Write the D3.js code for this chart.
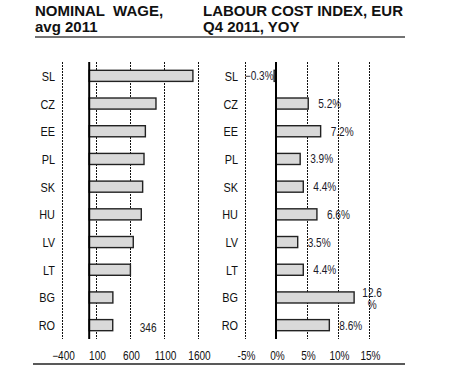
<!DOCTYPE html>
<html>
<head>
<meta charset="utf-8">
<script src="https://cdn.jsdelivr.net/npm/d3@7"></script>
<style>
  body { margin: 0; background: #fff; }
  svg text { font-family: "Liberation Sans", Arial, sans-serif; }
  .title { font-weight: bold; font-size: 15px; white-space: pre; }
</style>
</head>
<body>
<script>
const countries = ['SL', 'CZ', 'EE', 'PL', 'SK', 'HU', 'LV', 'LT', 'BG', 'RO'];
const wages = [1525, 982, 826, 806, 786, 766, 648, 606, 348, 346];
const lci = [-0.3, 5.2, 7.2, 3.9, 4.4, 6.6, 3.5, 4.4, 12.6, 8.6];
const wageTicks = [-400, 100, 600, 1100, 1600];
const lciTicks = [-5, 0, 5, 10, 15];

const width = 460, height = 370;
const squeeze = 0.84; // narrow look of the original font

const svg = d3.select('body').append('svg')
  .attr('width', width)
  .attr('height', height);

// condensed text helper
function ntext(sel, x, y) {
  return sel.append('text')
    .attr('transform', `translate(${x},${y}) scale(${squeeze},1)`);
}

// titles
const titles = [
  { x: 35, lines: ['NOMINAL  WAGE,', 'avg 2011'] },
  { x: 203, lines: ['LABOUR COST INDEX, EUR', 'Q4 2011, YOY'] }
];
titles.forEach(t => {
  svg.append('g').selectAll('text')
    .data(t.lines)
    .enter().append('text')
      .attr('class', 'title')
      .attr('x', t.x)
      .attr('y', (d, i) => 16 + i * 16)
      .attr('fill', '#111')
      .text(d => d);
});

svg.append('line')
  .attr('x1', 35).attr('x2', 405).attr('y1', 37).attr('y2', 37)
  .attr('stroke', '#444').attr('stroke-width', 1.5);
svg.append('line')
  .attr('x1', 33).attr('x2', 405).attr('y1', 364).attr('y2', 364)
  .attr('stroke', '#222').attr('stroke-width', 1.5);

const y = d3.scaleBand()
  .domain(countries)
  .range([62, 339])
  .paddingInner(0.6)
  .paddingOuter(0.3);

function panel(x, values, ticks, labelX, fmt) {
  const g = svg.append('g');
  const [top, bottom] = [62, 339];

  // dotted gridlines (not at zero)
  g.append('g').selectAll('line')
    .data(ticks.filter(t => t !== 0))
    .enter().append('line')
      .attr('x1', d => Math.round(x(d)) + 0.5)
      .attr('x2', d => Math.round(x(d)) + 0.5)
      .attr('y1', top).attr('y2', bottom)
      .attr('stroke', '#111')
      .attr('stroke-width', 1)
      .attr('stroke-dasharray', '2,1');

  // tick labels
  ticks.forEach(t => {
    ntext(g, x(t) + 1.5, 359.5)
      .attr('text-anchor', 'middle')
      .attr('font-size', 12)
      .attr('fill', '#111')
      .text(fmt(t));
  });

  // category labels
  countries.forEach(c => {
    ntext(g, labelX, y(c) + y.bandwidth() / 2 + 5)
      .attr('text-anchor', 'end')
      .attr('font-size', 13)
      .attr('fill', '#111')
      .text(c);
  });

  // bars
  g.append('g').selectAll('rect')
    .data(values)
    .enter().append('rect')
      .attr('x', d => x(Math.min(0, d)))
      .attr('y', (d, i) => y(countries[i]))
      .attr('width', d => Math.abs(x(d) - x(0)))
      .attr('height', y.bandwidth())
      .attr('fill', '#d9d9d9')
      .attr('stroke', '#222')
      .attr('stroke-width', 1.4);

  // zero axis
  g.append('line')
    .attr('x1', x(0)).attr('x2', x(0))
    .attr('y1', top).attr('y2', bottom)
    .attr('stroke', '#000')
    .attr('stroke-width', 2);

  return g;
}

const xL = d3.scaleLinear().domain([-400, 1600]).range([62, 198]);
const xR = d3.scaleLinear().domain([-5, 15]).range([245, 369]);

panel(xL, wages, wageTicks, 55, d => d3.format('d')(d));
const right = panel(xR, lci, lciTicks, 238, d => d + '%');

// stray data label on the wage panel (RO)
ntext(svg, xL(wages[9]) + 27, y('RO') + y.bandwidth() / 2 + 6.5)
  .attr('font-size', 12)
  .attr('fill', '#222')
  .text(wages[9]);

// value labels on LCI panel
lci.forEach((v, i) => {
  const cy = y(countries[i]) + y.bandwidth() / 2;
  const label = d3.format('.1f')(v) + '%';
  if (v < 0) {
    ntext(right, xR(v) - 0.5, cy + 4.5)
      .attr('text-anchor', 'end')
      .attr('font-size', 12)
      .attr('fill', '#1a1a2a')
      .text(label);
  } else if (v > 12) {
    ntext(right, xR(v) + 18, cy - 0.5)
      .attr('text-anchor', 'middle')
      .attr('font-size', 12)
      .attr('fill', '#1a1a2a')
      .text(d3.format('.1f')(v));
    ntext(right, xR(v) + 18, cy + 11.5)
      .attr('text-anchor', 'middle')
      .attr('font-size', 12)
      .attr('fill', '#1a1a2a')
      .text('%');
  } else {
    ntext(right, xR(v) + 10, cy + 4.5)
      .attr('font-size', 12)
      .attr('fill', '#1a1a2a')
      .text(label);
  }
});
</script>
</body>
</html>
